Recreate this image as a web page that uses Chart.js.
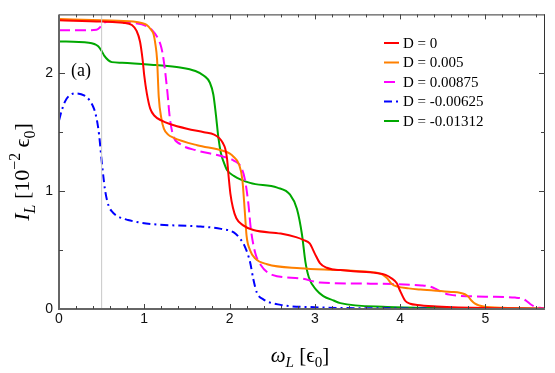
<!DOCTYPE html>
<html><head><meta charset="utf-8">
<script src="https://cdn.jsdelivr.net/npm/chart.js@4.4.1/dist/chart.umd.min.js"></script>
<style>html,body{margin:0;padding:0;background:#fff;}#wrap{position:relative;width:555px;height:373px;}</style>
</head><body><div id="wrap"><canvas id="c" width="555" height="373"></canvas></div>
<script>
// ---- data ----
const xTicks = [0, 1, 2, 3, 4, 5];
const yTicks = [0, 1, 2];
const seriesLabels = ['D = 0', 'D = 0.005', 'D = 0.00875', 'D = -0.00625', 'D = -0.01312'];

const redX = [0, 0.5, 0.75, 0.855, 0.91, 0.95, 0.98, 1.0, 1.03, 1.07, 1.12, 1.2, 1.3, 1.5, 1.7, 1.82, 1.88, 1.92, 1.95, 1.97, 1.99, 2.01, 2.04, 2.08, 2.16, 2.28, 2.6, 2.78, 2.87, 2.94, 3.0, 3.06, 3.14, 3.22, 3.3, 3.45, 3.72, 3.83, 3.9, 3.96, 4.0, 4.06, 4.12, 4.2, 4.43, 5.0, 5.7];
const redY = [2.45, 2.44, 2.43, 2.41, 2.36, 2.27, 2.12, 1.98, 1.83, 1.70, 1.64, 1.60, 1.57, 1.53, 1.50, 1.48, 1.45, 1.41, 1.36, 1.28, 1.12, 0.98, 0.86, 0.77, 0.71, 0.67, 0.64, 0.61, 0.585, 0.556, 0.47, 0.39, 0.35, 0.335, 0.33, 0.32, 0.305, 0.29, 0.26, 0.22, 0.155, 0.07, 0.045, 0.034, 0.022, 0.008, 0.003];

const orangeX = [0, 0.5, 0.87, 0.98, 1.03, 1.08, 1.11, 1.13, 1.15, 1.17, 1.2, 1.23, 1.28, 1.34, 1.62, 1.91, 2.0, 2.05, 2.11, 2.15, 2.18, 2.2, 2.24, 2.3, 2.44, 2.83, 3.3, 3.65, 3.74, 3.8, 3.85, 3.9, 3.97, 4.1, 4.24, 4.6, 4.7, 4.76, 4.8, 4.84, 4.88, 4.93, 4.98, 5.2, 5.7];
const orangeY = [2.46, 2.45, 2.44, 2.425, 2.41, 2.37, 2.33, 2.25, 2.12, 1.80, 1.62, 1.53, 1.48, 1.455, 1.39, 1.345, 1.32, 1.29, 1.23, 1.10, 0.82, 0.62, 0.50, 0.43, 0.38, 0.346, 0.33, 0.313, 0.305, 0.29, 0.26, 0.215, 0.19, 0.175, 0.165, 0.145, 0.138, 0.125, 0.105, 0.07, 0.045, 0.03, 0.022, 0.01, 0.003];

const magentaX = [0, 0.3, 0.44, 0.48, 0.52, 0.6, 0.85, 1.03, 1.1, 1.15, 1.2, 1.23, 1.27, 1.3, 1.34, 1.42, 1.62, 1.89, 2.05, 2.13, 2.18, 2.22, 2.25, 2.3, 2.36, 2.5, 2.83, 3.06, 3.65, 4.25, 4.35, 4.42, 4.5, 4.58, 4.7, 5.0, 5.35, 5.43, 5.48, 5.53, 5.58, 5.64, 5.7];
const magentaY = [2.365, 2.365, 2.37, 2.39, 2.425, 2.44, 2.43, 2.40, 2.36, 2.31, 2.22, 2.10, 1.85, 1.62, 1.47, 1.40, 1.345, 1.30, 1.26, 1.21, 1.10, 0.90, 0.68, 0.48, 0.38, 0.29, 0.26, 0.225, 0.215, 0.20, 0.19, 0.17, 0.14, 0.122, 0.112, 0.105, 0.097, 0.088, 0.07, 0.04, 0.02, 0.01, 0.004];

const blueX = [0, 0.03, 0.07, 0.12, 0.2, 0.3, 0.36, 0.41, 0.44, 0.47, 0.5, 0.54, 0.58, 0.63, 0.68, 0.81, 1.1, 1.66, 1.9, 2.05, 2.12, 2.18, 2.24, 2.28, 2.32, 2.4, 2.6, 3.0, 4.0, 5.7];
const blueY = [1.6, 1.68, 1.76, 1.81, 1.83, 1.81, 1.77, 1.70, 1.62, 1.48, 1.26, 1.01, 0.88, 0.82, 0.79, 0.755, 0.72, 0.70, 0.68, 0.65, 0.60, 0.53, 0.40, 0.25, 0.14, 0.08, 0.035, 0.015, 0.005, 0.0];

const greenX = [0, 0.35, 0.46, 0.5, 0.53, 0.58, 0.62, 0.74, 1.13, 1.42, 1.6, 1.7, 1.77, 1.81, 1.84, 1.87, 1.9, 1.93, 1.97, 2.05, 2.24, 2.56, 2.71, 2.79, 2.85, 2.89, 2.93, 3.02, 3.1, 3.22, 3.3, 3.85, 4.5, 5.7];
const greenY = [2.27, 2.26, 2.23, 2.19, 2.15, 2.11, 2.095, 2.09, 2.07, 2.05, 2.02, 1.98, 1.92, 1.82, 1.65, 1.45, 1.32, 1.25, 1.18, 1.13, 1.07, 1.03, 0.97, 0.85, 0.63, 0.40, 0.27, 0.16, 0.11, 0.072, 0.05, 0.017, 0.008, 0.003];

const markerX = [0.5, 0.5];
const markerY = [0, 2.5];

// ---- build ----
const pts = (xs, ys) => xs.map((x, i) => ({x, y: ys[i]}));
const mk = (label, xs, ys, color, dash) => ({
  label, data: pts(xs, ys), borderColor: color, backgroundColor: color,
  borderWidth: 2, borderDash: dash, pointRadius: 0, showLine: true,
  cubicInterpolationMode: 'monotone', fill: false
});

const datasets = [
  {label: 'marker', data: pts(markerX, markerY), borderColor: '#c8c8c8', borderWidth: 1, pointRadius: 0, showLine: true, isMarker: true},
  mk(seriesLabels[0], redX, redY, '#ff0000', []),
  mk(seriesLabels[1], orangeX, orangeY, '#ff8000', []),
  mk(seriesLabels[2], magentaX, magentaY, '#ff00ff', [11, 5]),
  mk(seriesLabels[3], blueX, blueY, '#0000ff', [8, 4, 2, 4]),
  mk(seriesLabels[4], greenX, greenY, '#00a800', []),
];

function drawRich(ctx, segs, size, x, y, align) {
  const parts = segs.map(([t, st]) => {
    const small = st.includes('sub') || st.includes('sup');
    const fs = small ? size * 0.72 : size;
    const ital = st === 'i' || st === 'isub';
    const font = (ital ? 'italic ' : '') + fs + 'px "Liberation Serif", "DejaVu Serif", serif';
    ctx.font = font;
    const w = ctx.measureText(t).width;
    const dy = st.includes('sub') ? size * 0.25 : (st.includes('sup') ? -size * 0.42 : 0);
    return {t, font, w, dy};
  });
  const total = parts.reduce((a, p) => a + p.w, 0);
  let cx = align === 'center' ? x - total / 2 : x;
  ctx.textBaseline = 'alphabetic';
  ctx.textAlign = 'left';
  for (const p of parts) { ctx.font = p.font; ctx.fillText(p.t, cx, y + p.dy); cx += p.w; }
}

const decor = {
  id: 'decor',
  afterDatasetsDraw(chart) {
    const {ctx, chartArea: a, scales: {x, y}} = chart;
    ctx.save();
    // frame
    ctx.lineCap = 'butt';
    ctx.strokeStyle = '#333'; ctx.lineWidth = 1;
    ctx.beginPath(); ctx.moveTo(a.left, a.top + 0.5); ctx.lineTo(a.right, a.top + 0.5);
    ctx.moveTo(a.right - 0.5, a.top); ctx.lineTo(a.right - 0.5, a.bottom); ctx.stroke();
    ctx.strokeStyle = '#666'; ctx.lineWidth = 2;
    ctx.beginPath(); ctx.moveTo(a.left, a.top); ctx.lineTo(a.left, a.bottom + 1);
    ctx.moveTo(a.left - 1, a.bottom); ctx.lineTo(a.right, a.bottom); ctx.stroke();
    // inward ticks
    ctx.strokeStyle = '#444'; ctx.lineWidth = 1;
    ctx.beginPath();
    for (let i = 1; i <= 28; i++) {
      const v = i * 0.2; const px = Math.round(x.getPixelForValue(v)) + 0.5;
      const major = Math.abs(v - Math.round(v)) < 1e-6;
      const L = major ? 5 : 3;
      ctx.moveTo(px, a.bottom); ctx.lineTo(px, a.bottom - L);
      ctx.moveTo(px, a.top); ctx.lineTo(px, a.top + L);
    }
    for (let i = 1; i <= 4; i++) {
      const v = i * 0.5; const py = Math.round(y.getPixelForValue(v)) + 0.5;
      const major = i % 2 === 0; const L = major ? 6 : 4;
      ctx.moveTo(a.left, py); ctx.lineTo(a.left + L, py);
      ctx.moveTo(a.right, py); ctx.lineTo(a.right - L, py);
    }
    ctx.stroke();
    // legend
    ctx.fillStyle = '#000';
    let row = 0;
    chart.data.datasets.forEach(ds => {
      if (ds.isMarker) return;
      const yy = 43 + row * 19.5;
      ctx.strokeStyle = ds.borderColor; ctx.lineWidth = 2; ctx.setLineDash(ds.borderDash || []);
      ctx.beginPath(); ctx.moveTo(384, yy); ctx.lineTo(399, yy); ctx.stroke();
      ctx.setLineDash([]);
      ctx.font = '15px "Liberation Serif", serif'; ctx.textBaseline = 'middle'; ctx.textAlign = 'left';
      ctx.fillText(ds.label, 403, yy + 1);
      row++;
    });
    // panel label
    ctx.font = '18px "Liberation Serif", serif'; ctx.textBaseline = 'alphabetic';
    ctx.fillText('(a)', 71, 76);
    // x title
    drawRich(ctx, [['ω', 'i'], ['L', 'isub'], [' [ϵ', 'n'], ['0', 'sub'], [']', 'n']], 21, 300, 362, 'center');
    // y title
    ctx.save();
    ctx.translate(29, 172); ctx.rotate(-Math.PI / 2);
    drawRich(ctx, [['I', 'i'], ['L', 'isub'], [' [10', 'n'], ['−2', 'sup'], [' ϵ', 'n'], ['0', 'sub'], [']', 'n']], 22, 0, 0, 'center');
    ctx.restore();
    ctx.restore();
  }
};

new Chart(document.getElementById('c'), {
  type: 'scatter',
  data: {datasets},
  options: {
    responsive: false, animation: false, devicePixelRatio: 1,
    layout: {padding: {left: 0, top: 7, right: 10, bottom: 0}},
    plugins: {legend: {display: false}, tooltip: {enabled: false}},
    scales: {
      x: {
        type: 'linear', min: 0, max: 5.7,
        afterFit: s => { s.height = 64; },
        afterBuildTicks: s => { s.ticks = xTicks.map(v => ({value: v})); },
        grid: {display: false, drawTicks: false}, border: {display: false},
        ticks: {padding: 2, color: '#111', font: {family: '"Liberation Sans", Arial, sans-serif', size: 14}, callback: v => String(v), maxRotation: 0, autoSkip: false}
      },
      y: {
        type: 'linear', min: 0, max: 2.5,
        afterFit: s => { s.width = 59; },
        afterBuildTicks: s => { s.ticks = yTicks.map(v => ({value: v})); },
        grid: {display: false, drawTicks: false}, border: {display: false},
        ticks: {padding: 6, color: '#111', font: {family: '"Liberation Sans", Arial, sans-serif', size: 14}, callback: v => String(v)}
      }
    }
  },
  plugins: [decor]
});
</script></body></html>
